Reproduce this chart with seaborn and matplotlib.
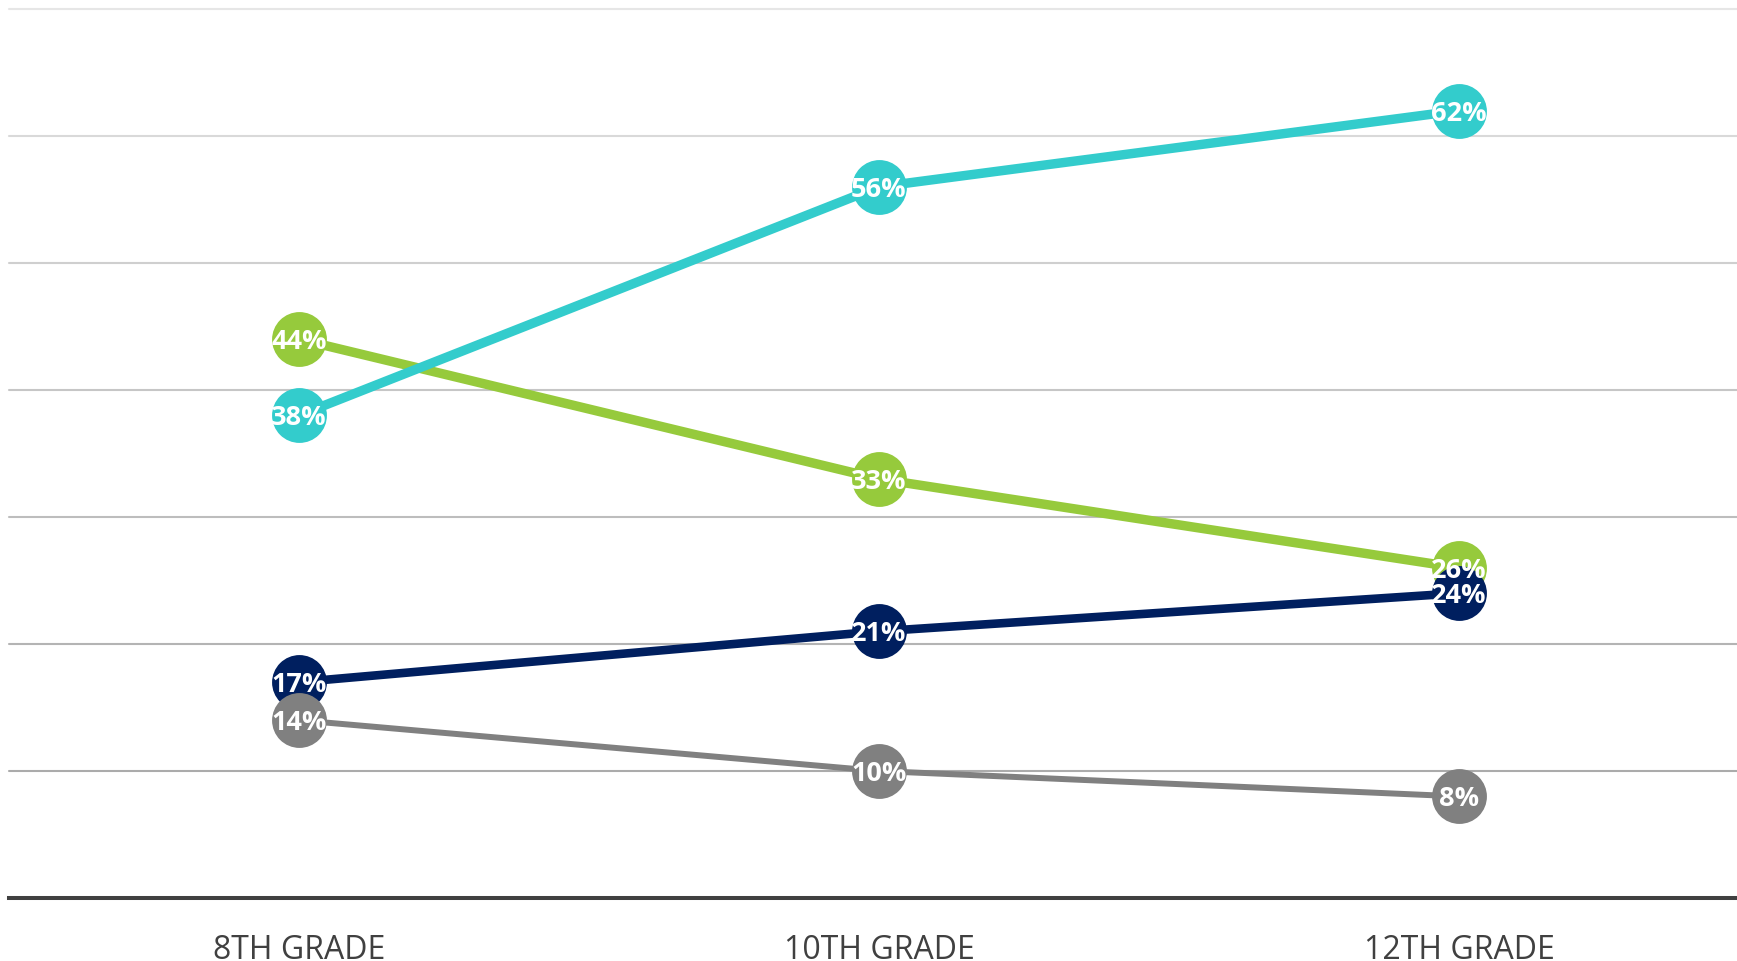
import matplotlib
matplotlib.use("Agg")
import matplotlib.pyplot as plt
import seaborn as sns
import pandas as pd

# Chart data
grades = ["8TH GRADE", "10TH GRADE", "12TH GRADE"]
series_names = ["Group A", "Group B", "Group C", "Group D"]
group_a = [44, 33, 26]   # green
group_b = [38, 56, 62]   # teal
group_c = [17, 21, 24]   # navy
group_d = [14, 10, 8]    # grey

colors = {"Group A": "#96CA3C", "Group B": "#33CCCC", "Group C": "#001F5F", "Group D": "#808080"}
widths = {"Group A": 6.8, "Group B": 6.8, "Group C": 6.2, "Group D": 4.3}

rows = []
for name, vals in zip(series_names, [group_a, group_b, group_c, group_d]):
    for g, v in zip(grades, vals):
        rows.append({"grade": g, "pct": v, "series": name})
df = pd.DataFrame(rows)

sns.set_theme(style="white")
plt.rcParams["font.family"] = ["Open Sans", "DejaVu Sans"]

fig = plt.figure(figsize=(17.37, 9.61), dpi=100)
ax = fig.add_axes([9 / 1737, 63 / 961, 1740 / 1737, 889 / 961])

# Horizontal gridlines, shading slightly darker toward the baseline
grid_levels = [10, 20, 30, 40, 50, 60, 70]
grid_colors = ["#ababab", "#b4b4b4", "#bdbdbd", "#c6c6c6", "#cfcfcf", "#d9d9d9", "#e6e6e6"]
for lvl, c in zip(grid_levels, grid_colors):
    ax.axhline(lvl, color=c, lw=1.5, zorder=0, clip_on=False)

sns.lineplot(
    data=df, x="grade", y="pct", hue="series", size="series",
    hue_order=series_names, size_order=series_names,
    palette=colors, sizes=widths, marker="o", markersize=39.5,
    markeredgewidth=0, legend=False, sort=False, ax=ax, zorder=3,
)

# Value labels inside the markers
for name, vals in zip(series_names, [group_a, group_b, group_c, group_d]):
    for i, v in enumerate(vals):
        ax.text(i, v, f"{v}%", ha="center", va="center_baseline", color="white",
                fontsize=19.5, fontweight="bold", zorder=5)

ax.set_xlim(-0.5, 2.5)
ax.set_ylim(0, 70)
ax.set_xlabel("")
ax.set_ylabel("")
ax.set_yticks([])
for side in ["left", "right", "top"]:
    ax.spines[side].set_visible(False)
ax.spines["bottom"].set_color("#404040")
ax.spines["bottom"].set_linewidth(2.9)
ax.spines["bottom"].set_zorder(1)
ax.tick_params(axis="x", length=0, pad=26, labelsize=23, labelcolor="#404040")

fig.savefig("out.png", dpi=100)
